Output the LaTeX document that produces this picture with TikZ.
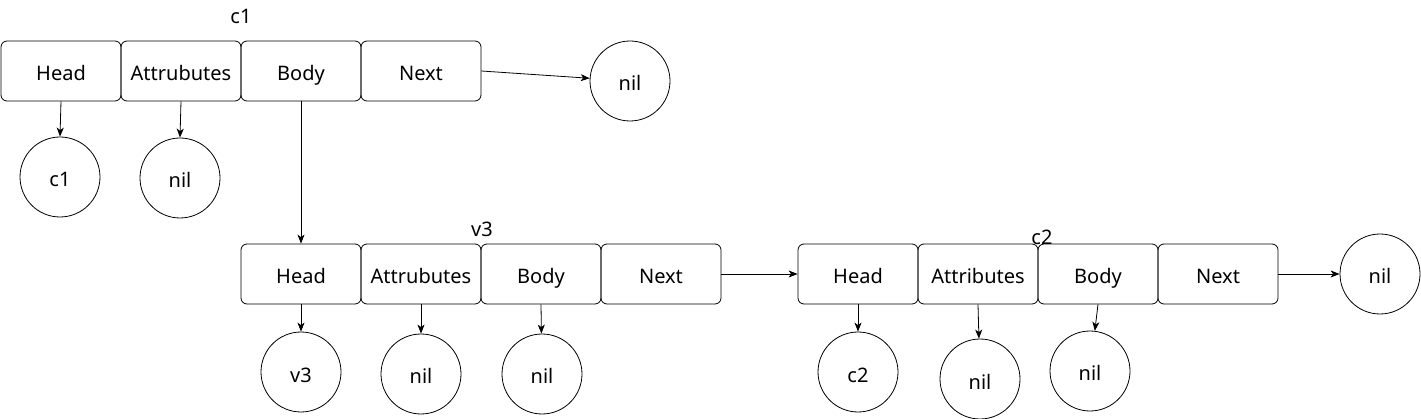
\documentclass[tikz,border=0pt]{standalone}
\usepackage{fontspec}
\setmainfont{Noto Sans}
\usetikzlibrary{arrows.meta}
\begin{document}
\begin{tikzpicture}[x=1pt,y=-1pt,
  txt/.style={font=\fontsize{20}{22}\selectfont, text height=20pt, text depth=0pt},
  cell/.style={txt, draw, rounded corners=6pt, minimum width=120pt, minimum height=60pt, inner sep=0pt, line width=0.8pt},
  val/.style={txt, draw, circle, minimum size=80pt, inner sep=0pt, line width=0.8pt},
  lbl/.style={inner sep=0pt, font=\fontsize{20}{22}\selectfont},
  arr/.style={line width=0.8pt, -{Stealth[length=9pt,width=7pt,inset=2.5pt]}}]
\useasboundingbox (0,0) rectangle (1421,419);
% group 1
\node[cell] (h1) at (61,71) {Head};
\node[cell] (a1) at (181,71) {Attrubutes};
\node[cell] (b1) at (301,71) {Body};
\node[cell] (n1) at (421,71) {Next};
\node[val] (vc1) at (60,177) {c1};
\node[val] (va1) at (180,178) {nil};
\node[val] (vn1) at (630,81) {nil};
% group 2
\node[cell] (h2) at (301,274) {Head};
\node[cell] (a2) at (421,274) {Attrubutes};
\node[cell] (b2) at (541,274) {Body};
\node[cell] (n2) at (661,274) {Next};
\node[val] (vh2) at (301,372) {v3};
\node[val] (va2) at (421,374) {nil};
\node[val] (vb2) at (542,374) {nil};
% group 3
\node[cell] (h3) at (858,274) {Head};
\node[cell] (a3) at (978,274) {Attributes};
\node[cell] (b3) at (1098,274) {Body};
\node[cell] (n3) at (1218,274) {Next};
\node[val] (vh3) at (858,372) {c2};
\node[val] (va3) at (980,379) {nil};
\node[val] (vb3) at (1090,371) {nil};
\node[val] (vn3) at (1380,274) {nil};
% labels
\node[lbl] (l1) at (241,16) {c1};
\node[lbl] (l2) at (482,229) {v3};
\node[lbl] (l3) at (1042,237) {c2};
% connectors
\draw[arr] (h1.south) -- (vc1.north);
\draw[arr] (a1.south) -- (va1.north);
\draw[arr] (n1.east) -- (vn1);
\draw[arr] (b1.south) -- (h2.north);
\draw[arr] (h2.south) -- (vh2.north);
\draw[arr] (a2.south) -- (va2.north);
\draw[arr] (b2.south) -- (vb2);
\draw[arr] (n2.east) -- (h3.west);
\draw[arr] (h3.south) -- (vh3.north);
\draw[arr] (a3.south) -- (va3);
\draw[arr] (b3.south) -- (vb3);
\draw[arr] (n3.east) -- (vn3.west);
\end{tikzpicture}
\end{document}
